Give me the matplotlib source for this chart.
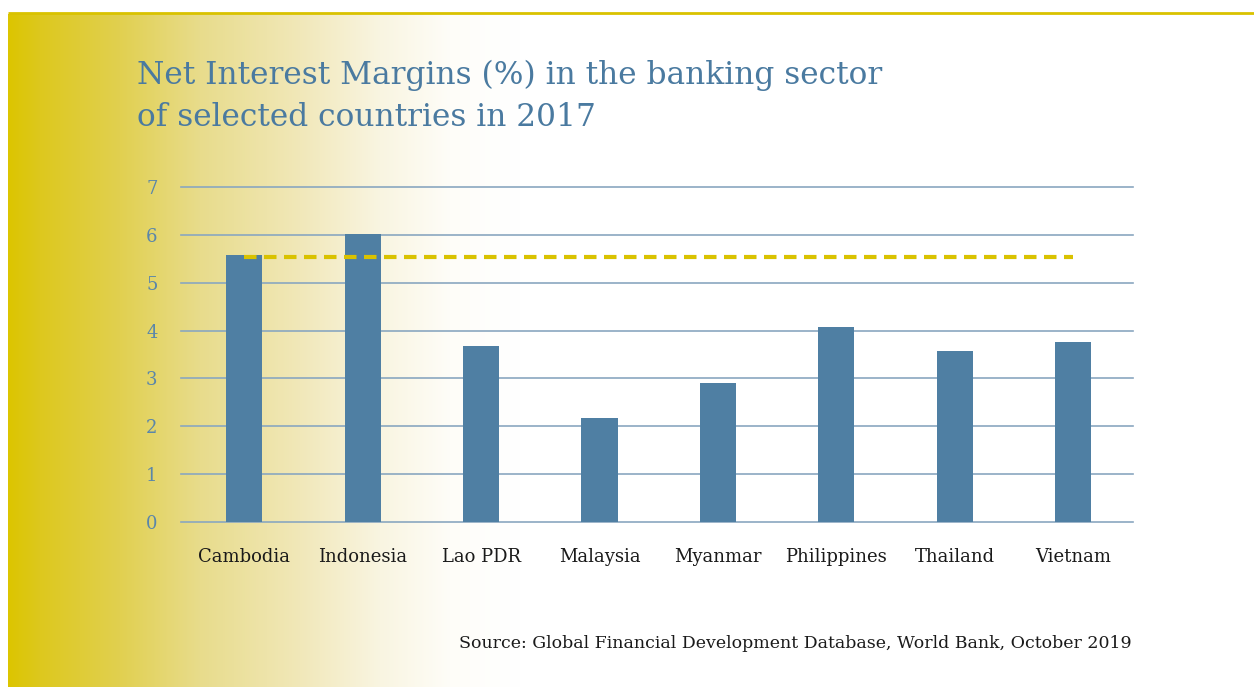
import matplotlib

matplotlib.use("Agg")
import matplotlib.pyplot as plt
import numpy as np

countries = ["Cambodia", "Indonesia", "Lao PDR", "Malaysia", "Myanmar",
             "Philippines", "Thailand", "Vietnam"]
nim = [5.58, 6.02, 3.68, 2.17, 2.90, 4.07, 3.57, 3.76]
ref_level = 5.54
y_ticks = [0, 1, 2, 3, 4, 5, 6, 7]

BLUE = "#4f7fa3"
GRID = "#8aa7c0"
GOLD = "#d9c200"

W, H = 1254, 687
fig = plt.figure(figsize=(W / 100, H / 100), dpi=100)

# yellow-to-white backdrop on the left side
bg = fig.add_axes([0, 0, 1, 1])
bg.set_xlim(0, W)
bg.set_ylim(H, 0)
bg.axis("off")
xs = np.arange(W)
stops = [8, 40, 120, 200, 300, 380, 450, 520]
r = [220, 221, 225, 232, 241, 249, 254, 255]
g = [197, 200, 208, 220, 232, 245, 253, 255]
b = [0, 30, 80, 140, 185, 225, 248, 255]
row = np.stack([np.interp(xs, stops, c) for c in (r, g, b)], axis=1) / 255
row[xs < 8] = 1.0
img = np.repeat(row[None, :, :], 2, axis=0)
bg.imshow(img, extent=[0, W, 687, 14], aspect="auto", zorder=0)
bg.plot([8, W], [13, 13], color=GOLD, lw=2, solid_capstyle="butt", zorder=1)

fig.text(137 / W, 1 - 96 / H, "Net Interest Margins (%) in the banking sector\nof selected countries in 2017",
         family="DejaVu Serif", fontsize=22.5, color="#4a7aa0", va="center", ha="left",
         linespacing=1.45)

ax = fig.add_axes([181 / W, 1 - 522 / H, (1133 - 181) / W, (522 - 187) / H])
ax.patch.set_alpha(0)
x = np.arange(len(countries))
ax.bar(x, nim, width=0.305, color=BLUE, zorder=3)
ax.plot([0, len(countries) - 1], [ref_level, ref_level], color=GOLD, lw=3,
        dashes=(3.0, 1.8), zorder=4)

ax.set_xlim(-0.535, len(countries) - 0.493)
ax.set_ylim(0, 7)
ax.set_yticks(y_ticks)
ax.set_xticks(x)
ax.set_xticklabels(countries, family="DejaVu Serif", fontsize=13, color="#1a1a1a")
ax.tick_params(axis="y", labelsize=13, labelcolor="#5a86aa", length=0, pad=17)
ax.tick_params(axis="x", length=0, pad=19)
for lab in ax.get_yticklabels():
    lab.set_family("DejaVu Serif")
ax.grid(axis="y", color=GRID, lw=1.2, zorder=1)
for gl in ax.get_ygridlines():
    gl.set_clip_on(False)
for s in ax.spines.values():
    s.set_visible(False)

fig.text(1132 / W, 1 - 643 / H,
         "Source: Global Financial Development Database, World Bank, October 2019",
         family="DejaVu Serif", fontsize=12.5, color="#1a1a1a", ha="right", va="center")

fig.savefig("out.png", dpi=100)
